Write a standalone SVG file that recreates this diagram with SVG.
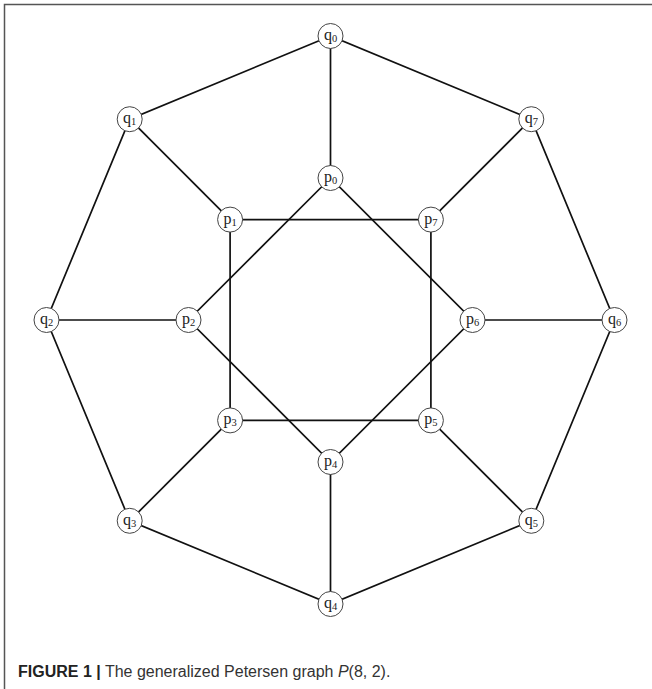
<svg xmlns="http://www.w3.org/2000/svg" width="652" height="689" viewBox="0 0 652 689">
<style>
.frame{fill:none;stroke:#555;stroke-width:1.5}
.e{stroke:#111;stroke-width:1.7;fill:none}
.n circle{fill:#fff;stroke:#444;stroke-width:1}
.n text{font-family:"Liberation Serif","DejaVu Serif",serif;font-size:16px;fill:#222;text-anchor:middle}
.n tspan{font-size:10.5px}
.cap{font-family:"Liberation Sans",Arial,sans-serif;font-size:16px;fill:#333}
</style>
<rect width="652" height="689" fill="#fff"/>
<path class="frame" d="M4.5,689 V4.5 H652"/>
<g id="edges">
<polygon class="e" points="330.5,36 129.7,119.2 46.5,320 129.7,520.8 330.5,604 531.3,520.8 614.5,320 531.3,119.2"/>
<line class="e" x1="330.5" y1="36" x2="330.5" y2="178"/>
<line class="e" x1="129.7" y1="119.2" x2="230.1" y2="219.6"/>
<line class="e" x1="46.5" y1="320" x2="188.5" y2="320"/>
<line class="e" x1="129.7" y1="520.8" x2="230.1" y2="420.4"/>
<line class="e" x1="330.5" y1="604" x2="330.5" y2="462"/>
<line class="e" x1="531.3" y1="520.8" x2="430.9" y2="420.4"/>
<line class="e" x1="614.5" y1="320" x2="472.5" y2="320"/>
<line class="e" x1="531.3" y1="119.2" x2="430.9" y2="219.6"/>
<polygon class="e" points="330.5,178 188.5,320 330.5,462 472.5,320"/>
<polygon class="e" points="230.1,219.6 230.1,420.4 430.9,420.4 430.9,219.6"/>
</g>
<g id="q0" class="n"><circle cx="330.5" cy="36" r="12.5"/><text x="330.5" y="40">q<tspan dy="2">0</tspan></text></g>
<g id="q1" class="n"><circle cx="129.7" cy="119.2" r="12.5"/><text x="129.7" y="123.2">q<tspan dy="2">1</tspan></text></g>
<g id="q2" class="n"><circle cx="46.5" cy="320" r="12.5"/><text x="46.5" y="324">q<tspan dy="2">2</tspan></text></g>
<g id="q3" class="n"><circle cx="129.7" cy="520.8" r="12.5"/><text x="129.7" y="524.8">q<tspan dy="2">3</tspan></text></g>
<g id="q4" class="n"><circle cx="330.5" cy="604" r="12.5"/><text x="330.5" y="608">q<tspan dy="2">4</tspan></text></g>
<g id="q5" class="n"><circle cx="531.3" cy="520.8" r="12.5"/><text x="531.3" y="524.8">q<tspan dy="2">5</tspan></text></g>
<g id="q6" class="n"><circle cx="614.5" cy="320" r="12.5"/><text x="614.5" y="324">q<tspan dy="2">6</tspan></text></g>
<g id="q7" class="n"><circle cx="531.3" cy="119.2" r="12.5"/><text x="531.3" y="123.2">q<tspan dy="2">7</tspan></text></g>
<g id="p0" class="n"><circle cx="330.5" cy="178" r="12.5"/><text x="330.5" y="182">p<tspan dy="2">0</tspan></text></g>
<g id="p1" class="n"><circle cx="230.1" cy="219.6" r="12.5"/><text x="230.1" y="223.6">p<tspan dy="2">1</tspan></text></g>
<g id="p2" class="n"><circle cx="188.5" cy="320" r="12.5"/><text x="188.5" y="324">p<tspan dy="2">2</tspan></text></g>
<g id="p3" class="n"><circle cx="230.1" cy="420.4" r="12.5"/><text x="230.1" y="424.4">p<tspan dy="2">3</tspan></text></g>
<g id="p4" class="n"><circle cx="330.5" cy="462" r="12.5"/><text x="330.5" y="466">p<tspan dy="2">4</tspan></text></g>
<g id="p5" class="n"><circle cx="430.9" cy="420.4" r="12.5"/><text x="430.9" y="424.4">p<tspan dy="2">5</tspan></text></g>
<g id="p6" class="n"><circle cx="472.5" cy="320" r="12.5"/><text x="472.5" y="324">p<tspan dy="2">6</tspan></text></g>
<g id="p7" class="n"><circle cx="430.9" cy="219.6" r="12.5"/><text x="430.9" y="223.6">p<tspan dy="2">7</tspan></text></g>
<text class="cap" x="18" y="677"><tspan font-weight="bold" fill="#222">FIGURE 1 |</tspan> The generalized Petersen graph <tspan font-style="italic">P</tspan>(8, 2).</text>
</svg>
